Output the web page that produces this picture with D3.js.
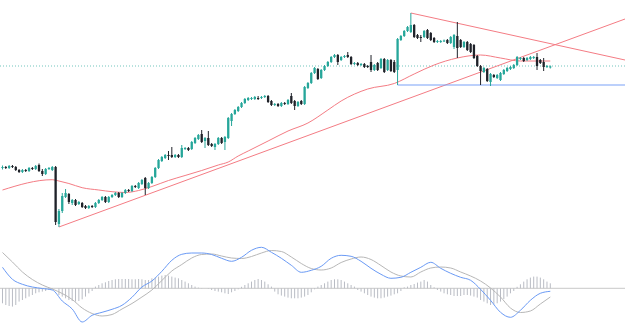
<!DOCTYPE html>
<html>
<head>
  <meta charset="utf-8" />
  <title>Candles + MACD</title>
  <style>
    body { margin: 0; background: #fff; }
  </style>
</head>
<body>
<svg id="chart"></svg>
<script src="https://cdn.jsdelivr.net/npm/d3@7"></script>
<script>

  // candles: [open, high, low, close]
  var ohlc = [
    [72,74.5,70.5,73],[73,74,71,72],[72,75,71,74],[74,75,72,73],[73,74,69,70],
    [70,71,67,68],[68,71,67,70],[70,71,68,69],[69,73,68,72],[72,73,70,71],
    [71,75,70,74],[75,76.5,68,69],[69,71,64,66],[66,72,65,71],[71,73,70,72],
    [70,74,69,73],[73,74,15,18],[16,31,13,29],[29,47,27,44],[43,51,42,47],
    [46,47,36,38],[37,41,35,40],[40,41,34,35],[36,39,35,38],[37,38,32,33],
    [34,35,31,32],[32,35,31,34],[34,35,32,33],[33,38,32,37],[37,41,36,40],
    [40,44,39,43],[43,44,37,38],[38,44,37,43],[43,46,42,45],[45,48,44,47],
    [47,48,42,43],[43,48,42,47],[47,51,46,50],[50,51,48,49],[49,55,48,54],
    [54,55,52,53],[52,58,51,57],[56,61,55,60],[62,63,45,52],[52,58,51,57],
    [57,64,56,63],[63,73,62,72],[72,81,71,80],[79,84,78,83],[82,86,81,85],
    [85,89,80,84],[85,93,82,83],[83,86,82,85],[85,86,82,83],[83,95,82,92],
    [91,93,90,92],[92,93,89,90],[91,99,90,98],[97,103,96,102],[101,106,100,105],
    [106,110,97,98],[99,103,92,102],[102,109,94,95],[96,97,93,94],[93,97,90,96],
    [96,103,95,102],[102,103,96,97],[98,104,90,103],[102,123,101,122],[119,127,114,126],
    [126,131,125,130],[129,134,128,133],[133,138,132,137],[137,142,136,141],[140,143,139,142],
    [141,143,140,142],[141,144,140,143],[142,144,140,141.5],[142,144,141,143],[143,145,142,144],
    [144,145,137,138],[139,140,134,135],[135,137,134,136],[136,137,133,134],[134,138,133,137],
    [137,138,135,136],[136,141,135,140],[144,147,136,137],[139,140,130,134],[134,139,133,138],
    [139,140,135,136],[136,154,135,153],[152,158,151,157],[157,168,156,167],[167,173,166,172],
    [171,172,160,161],[162,171,161,170],[170,175,169,174],[174,179,173,178],[178,184,177,183],
    [183,186,182,185],[185,186,175,178],[180,184,179,183],[183,185,182,184],[185,188,182,183],
    [183,184,175,176],[176,178,175,177],[177,178,174,175],[175,177,174,176],[176,177,172,173],
    [174,175,172,173],[178,185,168,170],[170,176,169,175],[177,178,169,170],[172,182,171,181],
    [181,182,167,168],[170,181,169,180],[180,181,168,169],[178,180,167,168],[170,202,155,201],
    [200,205,199,204],[204,210,203,209],[209,214,208,213],[208,227,207,215],[215,216,202,203],
    [205,206,201,202],[203,205,198,202.5],[203,210,202,209],[210,211,201,202],[207,208,199,200],
    [202,203,197,198],[198,200,197,199],[198,200,197,199],[199,200.5,198,199.5],[200,201,196,197],
    [197,204,196,203],[193,206,191,205],[204,218,182,192],[200,201,192,193],[193,199,192,198],
    [198,199,189,190],[196,197,187,188],[195,196,181,182],[184,185,173,174],[174,175,155,169],
    [168,173,167,172],[171,172,158,159],[158,167,154,166],[165,166,162,163],[162,166,161,165],
    [160,168,159,167],[166,171,165,170],[169,173,168,172],[171,174,170,173],[172,176,171,175],
    [175,184,174,183],[181,183,180,182],[182,183,178,179],[180,183,179,182],[181,184,180,183],
    [182,184,181,183],[183,187,170,174],[180,181,176,177],[178,182,169,173],[173,175,172,174],
    [172.5,174.5,171.5,173.5]
  ];

  // moving average, [candle index, price]
  var maLine = [
    [0,50],[15,60.3],[17,59],[20,56.5],[24,52.3],[29,50],[33,48.3],[37,47.5],[41,49.5],
    [45,53.5],[50,59.5],[55,64.5],[60,69.5],[65,75],[68,78],[71,84],[74,89],[80,99],
    [86,109],[92,117],[98,130],[102,139],[110,151],[118,156.5],[124,166],[130,175],
    [137,182],[144,185],[150,182],[156,179],[165,179]
  ];

  var upTrend = [[17,13],[187.5,221]];
  var downTrend = [[123,227],[187.5,180]];
  var support = [[119,155],[187.5,155]];
  var lastPrice = 174;

  // MACD panel
  var macdLine = [
    [0,21],[3,9],[6,4],[9,1.3],[12,-0.2],[15,-1.7],[18,-12.7],[21,-20.7],[24,-33.7],
    [27,-27],[30,-24],[33,-21],[36,-17],[39,-9],[42,1.3],[45,7.3],[48,17],[51,28],
    [54,34],[57,35.3],[60,35.3],[63,33.8],[66,30],[69,27],[72,31],[75,38],[78,41],
    [81,36],[84,30],[87,23],[90,16],[93,18],[96,22],[99,30],[102,33],[105,32],
    [108,27],[111,20],[114,14],[117,10],[120,11],[123,16],[126,21],[129,26],[132,20],
    [135,15],[138,11],[141,8],[144,-1],[147,-12],[150,-24],[153,-29],[156,-22],
    [159,-12],[162,-5],[165,-3]
  ];

  var signalLine = [
    [0,35.8],[3,26.3],[6,16.3],[9,8.8],[12,3.3],[15,-0.7],[18,-5.2],[21,-11.2],[24,-19.7],
    [27,-25.2],[30,-27.7],[33,-26.2],[36,-20.7],[39,-15.2],[42,-8.7],[45,-1.7],[48,7.8],
    [51,17.3],[54,23.8],[57,30.3],[60,33.8],[63,34.3],[66,32.3],[69,30.3],[72,29.8],
    [75,31.8],[78,35.3],[81,37.8],[84,36.8],[87,31.3],[90,24.8],[93,19.8],[96,18.3],
    [99,20.3],[102,25.8],[105,29.3],[108,31.3],[111,28.8],[114,22.8],[117,16.3],
    [120,12.3],[123,11.3],[126,16.3],[129,20.3],[132,21.3],[135,20.3],[138,16.3],
    [141,12.3],[144,7.3],[147,0.3],[150,-8.7],[153,-19.7],[156,-24.2],[159,-22.7],
    [162,-15.7],[165,-8.7]
  ];

  var histogram = [
    -15,-16.7,-17.7,-18.3,-16.7,-13.3,-11.7,-10,-8.3,-6.7,
    -5,-4,-3.3,-2.7,-1.7,-1,0,-6.7,-8.3,-10,
    -11.7,-12.7,-13.3,-12.7,-11,-8.3,-5,-2.7,1.7,3.3,
    5,6,7.3,8.3,9,9.3,9.3,9.3,9.3,9,
    9,9.3,9,8.3,8.3,10,10.7,11.7,12.7,13.3,
    12.7,11.7,10.7,10,8.3,6.7,5,3.3,1.7,0.7,
    0.3,0,-0.5,-1.7,-2.7,-3.3,-4,-5,-5.7,-4,
    -2.7,-1,1.5,3.3,5,6.7,8.3,9.3,8.3,6.7,
    4,1.7,-3.3,-6,-7.3,-8.3,-9.3,-10,-10,-10,
    -9.3,-8.3,-6.7,-4,-1,1.7,3.3,5,6.7,8.3,
    9,9,8.3,6.7,5,3.3,1.7,-1.7,-3.3,-5,
    -6.7,-8.3,-9.3,-10,-10,-9.3,-8.3,-7.3,-6,-5,
    -2.7,1,1.7,3.3,4.3,5.7,6.7,8.3,6.7,3.3,
    1,-1.7,-3.3,-5,-6,-6.7,-7.7,-7.7,-7.7,-6.7,
    -6.7,-7.3,-8.3,-9.3,-11.7,-13.3,-15,-16.7,-16,-15,
    -13.3,-10.7,-8.3,-5,-2.7,1.5,4,6.7,9,10.7,
    11.7,11.7,10.7,9,6.7,5
  ];

  var width = 625;
  var height = 331;
  var up_color = "#26a69a";
  var down_color = "#1f2229";

  var svg = d3.select("#chart")
              .attr("width", width)
              .attr("height", height);

  var x = d3.scaleLinear()
            .domain([-0.75, 187.5])
            .range([0, width]);

  var y = d3.scaleLinear()
            .domain([0, 240])
            .range([240, 0]);

  var y_macd = d3.scaleLinear()
                 .domain([-40, 60])
                 .range([328.3, 228.3]);

  var body_w = 2.3;

  var line = d3.line()
               .x(function(d){ return x(d[0]); })
               .y(function(d){ return y(d[1]); });

  // last price dotted line
  svg.append("line")
     .attr("x1", 0)
     .attr("x2", width)
     .attr("y1", y(lastPrice))
     .attr("y2", y(lastPrice))
     .attr("stroke", up_color)
     .attr("stroke-opacity", 0.65)
     .attr("stroke-width", 1)
     .attr("stroke-dasharray", "1,2");

  // moving average
  svg.append("path")
     .datum(maLine)
     .attr("fill", "none")
     .attr("stroke", "#f47c84")
     .attr("stroke-width", 1)
     .attr("d", d3.line()
                  .x(function(d){ return x(d[0]); })
                  .y(function(d){ return y(d[1]); })
                  .curve(d3.curveMonotoneX));

  // trend lines
  [upTrend, downTrend].forEach(function(t){
    svg.append("path")
       .datum(t)
       .attr("fill", "none")
       .attr("stroke", "#f47c84")
       .attr("stroke-width", 1)
       .attr("d", line);
  });

  svg.append("path")
     .datum(support)
     .attr("fill", "none")
     .attr("stroke", "#7aa2f7")
     .attr("stroke-width", 1.2)
     .attr("d", line);

  // candles
  var candle = svg.append("g")
                  .selectAll("g")
                  .data(ohlc)
                  .enter().append("g")
                  .attr("fill", function(d){ return d[3] >= d[0] ? up_color : down_color; })
                  .attr("stroke", function(d){ return d[3] >= d[0] ? up_color : down_color; });

  candle.append("line")
        .attr("x1", function(d, i){ return x(i); })
        .attr("x2", function(d, i){ return x(i); })
        .attr("y1", function(d){ return y(d[1]); })
        .attr("y2", function(d){ return y(d[2]); })
        .attr("stroke-width", 1);

  candle.append("rect")
        .attr("stroke", "none")
        .attr("x", function(d, i){ return x(i) - body_w / 2; })
        .attr("width", body_w)
        .attr("y", function(d){ return y(Math.max(d[0], d[3])); })
        .attr("height", function(d){ return Math.max(1, Math.abs(y(d[0]) - y(d[3]))); });

  // MACD panel
  svg.append("line")
     .attr("x1", 0)
     .attr("x2", width)
     .attr("y1", y_macd(0))
     .attr("y2", y_macd(0))
     .attr("stroke", "#c8c8c8")
     .attr("stroke-width", 1);

  svg.append("g")
     .selectAll("line")
     .data(histogram)
     .enter().append("line")
     .attr("x1", function(d, i){ return x(i); })
     .attr("x2", function(d, i){ return x(i); })
     .attr("y1", y_macd(0))
     .attr("y2", function(d){ return y_macd(d); })
     .attr("stroke", "#b9bcc4")
     .attr("stroke-width", 1);

  var macd_path = d3.line()
                    .x(function(d){ return x(d[0]); })
                    .y(function(d){ return y_macd(d[1]); })
                    .curve(d3.curveMonotoneX);

  svg.append("path")
     .datum(signalLine)
     .attr("fill", "none")
     .attr("stroke", "#b7b7b7")
     .attr("stroke-width", 1)
     .attr("d", macd_path);

  svg.append("path")
     .datum(macdLine)
     .attr("fill", "none")
     .attr("stroke", "#6a9af5")
     .attr("stroke-width", 1)
     .attr("d", macd_path);

</script>
</body>
</html>
